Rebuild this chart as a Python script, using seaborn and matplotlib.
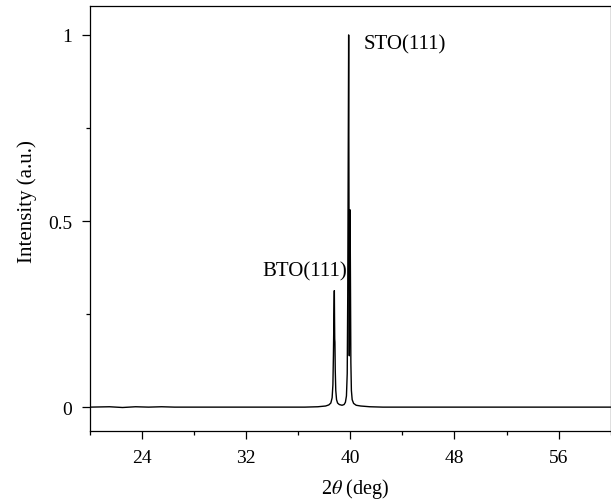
import matplotlib
matplotlib.use("Agg")
import matplotlib.pyplot as plt
from matplotlib.ticker import MultipleLocator, FormatStrFormatter
import seaborn as sns
import pandas as pd

# XRD scan: 2-theta positions (deg) and normalised intensity
two_theta = [20.0, 21.5, 22.5, 23.5, 24.5, 25.5, 26.5, 30.0, 34.0, 36.5,
             37.5, 38.1, 38.35, 38.5, 38.6, 38.66, 38.70, 38.74, 38.77,
             38.785, 38.80, 38.815, 38.84, 38.88, 38.94, 39.02, 39.15,
             39.36, 39.52, 39.62, 39.70, 39.76, 39.80, 39.84, 39.87,
             39.895, 39.92, 39.95, 39.98, 40.01, 40.04, 40.08, 40.14,
             40.25, 40.45, 40.8, 41.5, 42.5, 45.0, 50.0, 55.0, 60.0]
intensity = [0.0, 0.001, -0.001, 0.001, 0.0, 0.001, 0.0, 0.0, 0.0, 0.0,
             0.001, 0.003, 0.006, 0.011, 0.025, 0.06, 0.14, 0.25, 0.313,
             0.24, 0.183, 0.175, 0.10, 0.045, 0.02, 0.011, 0.007,
             0.005, 0.007, 0.013, 0.03, 0.09, 0.30, 0.70, 1.0,
             0.55, 0.138, 0.30, 0.53, 0.33, 0.12, 0.045, 0.02,
             0.01, 0.005, 0.003, 0.001, 0.0, 0.0, 0.0, 0.0, 0.0]

peak_labels = ["STO(111)", "BTO(111)"]
label_x = [41.0, 39.72]
label_y = [0.976, 0.366]

x_ticks = [24, 32, 40, 48, 56]
y_ticks = [0, 0.5, 1]

sns.set_style("ticks")
plt.rcParams["font.family"] = ["Liberation Serif", "DejaVu Serif"]
plt.rcParams["mathtext.fontset"] = "stix"
plt.rcParams["text.color"] = "black"
plt.rcParams["axes.labelcolor"] = "black"
plt.rcParams["xtick.color"] = "black"
plt.rcParams["ytick.color"] = "black"

fig = plt.figure(figsize=(6.11, 5.02), dpi=100)
ax = fig.add_axes([0.1473, 0.1388, 0.8522, 0.8467])

df = pd.DataFrame({"two_theta": two_theta, "intensity": intensity})
sns.lineplot(data=df, x="two_theta", y="intensity", ax=ax, sort=False,
             color="black", linewidth=1.0, estimator=None)

ax.set_xlim(20, 60)
ax.set_ylim(-0.065, 1.077)
ax.set_xticks(x_ticks)
ax.set_yticks(y_ticks)
ax.xaxis.set_minor_locator(MultipleLocator(4))
ax.yaxis.set_minor_locator(MultipleLocator(0.25))
ax.yaxis.set_major_formatter(FormatStrFormatter("%g"))

for side in ["left", "bottom", "top", "right"]:
    ax.spines[side].set_visible(True)
    ax.spines[side].set_color("black")
    ax.spines[side].set_linewidth(0.9)

ax.tick_params(axis="both", which="major", direction="out", length=6,
               width=0.9, labelsize=14, color="black", labelcolor="black",
               pad=7)
ax.tick_params(axis="both", which="minor", direction="out", length=3,
               width=0.9, color="black")
ax.tick_params(top=False, right=False, which="both")

ax.set_xlabel(r"2$\theta$ (deg)", fontsize=14.5, color="black")
ax.set_ylabel("Intensity (a.u.)", fontsize=15, color="black")
ax.xaxis.label.set_va("center")
ax.yaxis.label.set_va("center")
ax.xaxis.set_label_coords(0.509, -0.133)
ax.yaxis.set_label_coords(-0.121, 0.542)

ax.text(label_x[0], label_y[0], peak_labels[0], ha="left", va="center",
        fontsize=15, color="black")
ax.text(label_x[1], label_y[1], peak_labels[1], ha="right", va="center",
        fontsize=15, color="black")

fig.savefig("out.png", dpi=100)
